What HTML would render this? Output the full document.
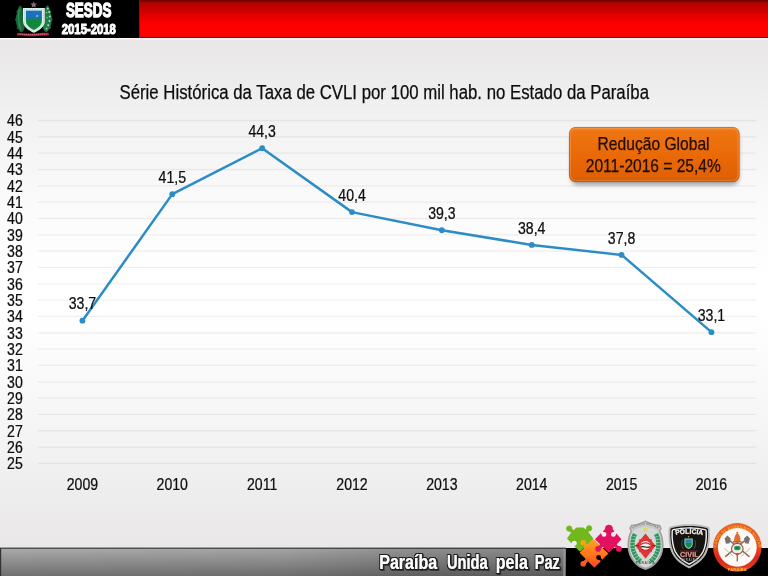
<!DOCTYPE html>
<html lang="pt-BR"><head><meta charset="utf-8"><title>SESDS 2015-2018</title>
<style>
html,body{margin:0;padding:0;background:#fff;}
body{width:768px;height:576px;overflow:hidden;position:relative;}
svg{position:absolute;left:0;top:0;display:block;}
text{font-family:"Liberation Sans",sans-serif;}
.n{fill:#0d0d0d;stroke:#0d0d0d;stroke-width:0.25;}
</style></head><body>
<svg width="768" height="576" viewBox="0 0 768 576">
<defs>
<linearGradient id="bg" x1="0" y1="0" x2="0" y2="1">
<stop offset="0.066" stop-color="#e8e6e6"/><stop offset="0.208" stop-color="#f2f2f2"/><stop offset="0.347" stop-color="#fafafa"/><stop offset="0.48" stop-color="#ffffff"/><stop offset="0.54" stop-color="#ffffff"/><stop offset="0.747" stop-color="#f5f5f5"/><stop offset="0.86" stop-color="#eeeded"/><stop offset="0.951" stop-color="#e9e7e7"/>
</linearGradient>
<linearGradient id="red" x1="0" y1="0" x2="0" y2="1">
<stop offset="0" stop-color="#620000"/><stop offset="0.05" stop-color="#9c0000"/><stop offset="0.09" stop-color="#b40000"/><stop offset="0.2" stop-color="#c40000"/><stop offset="0.4" stop-color="#e00000"/><stop offset="0.6" stop-color="#fd0000"/><stop offset="0.93" stop-color="#fd0000"/><stop offset="0.962" stop-color="#e00c0c"/><stop offset="0.985" stop-color="#980000"/><stop offset="1" stop-color="#8c0000"/>
</linearGradient>
<linearGradient id="bar" x1="0" y1="0" x2="0" y2="1">
<stop offset="0" stop-color="#ababab"/><stop offset="1" stop-color="#6f6f6f"/>
</linearGradient>
<linearGradient id="org" x1="0" y1="0" x2="0" y2="1">
<stop offset="0" stop-color="#f28a2e"/><stop offset="0.08" stop-color="#ee7412"/><stop offset="0.5" stop-color="#ea6a08"/><stop offset="0.92" stop-color="#e06004"/><stop offset="1" stop-color="#c85200"/>
</linearGradient>
<linearGradient id="barh" x1="0" y1="0" x2="1" y2="0"><stop offset="0" stop-color="#000" stop-opacity="0"/><stop offset="0.5" stop-color="#000" stop-opacity="0.03"/><stop offset="0.75" stop-color="#000" stop-opacity="0.16"/><stop offset="1" stop-color="#000" stop-opacity="0.2"/></linearGradient>
<filter id="sh" x="-10%" y="-20%" width="120%" height="160%"><feGaussianBlur stdDeviation="2.2"/></filter>
<filter id="sh3" x="-5%" y="-10%" width="110%" height="120%"><feGaussianBlur stdDeviation="0.7"/></filter>
<filter id="tsh" x="-5%" y="-30%" width="110%" height="170%">
<feMorphology in="SourceAlpha" operator="dilate" radius="0.45" result="fat"/>
<feMorphology in="SourceAlpha" operator="dilate" radius="1.45" result="ol"/>
<feGaussianBlur in="ol" stdDeviation="0.35" result="olb"/>
<feOffset in="ol" dx="0.7" dy="0.9" result="so"/><feGaussianBlur in="so" stdDeviation="0.6" result="sb"/>
<feFlood flood-color="#000" flood-opacity="0.5"/><feComposite in2="sb" operator="in" result="shadow"/>
<feFlood flood-color="#1e1e1e"/><feComposite in2="olb" operator="in" result="outline"/>
<feGaussianBlur in="fat" stdDeviation="0.25" result="fatb"/>
<feFlood flood-color="#fff"/><feComposite in2="fatb" operator="in" result="white"/>
<feMerge><feMergeNode in="shadow"/><feMergeNode in="outline"/><feMergeNode in="white"/></feMerge>
</filter>
<filter id="sh2" x="-5%" y="-50%" width="110%" height="300%"><feGaussianBlur stdDeviation="1.2"/></filter>
</defs>
<rect x="0" y="0" width="768" height="576" fill="url(#bg)"/>

<rect x="0" y="37" width="768" height="2.7" fill="#faf4f4"/>
<rect x="139.7" y="0" width="628.3" height="38" fill="url(#red)"/>
<rect x="0" y="0" width="139.7" height="38" fill="#000"/>
<line x1="37.5" y1="463.43" x2="756.5" y2="463.43" stroke="#000" stroke-opacity="0.06" stroke-width="1.3"/>
<line x1="37.5" y1="447.10" x2="756.5" y2="447.10" stroke="#000" stroke-opacity="0.06" stroke-width="1.3"/>
<line x1="37.5" y1="430.77" x2="756.5" y2="430.77" stroke="#000" stroke-opacity="0.06" stroke-width="1.3"/>
<line x1="37.5" y1="414.44" x2="756.5" y2="414.44" stroke="#000" stroke-opacity="0.06" stroke-width="1.3"/>
<line x1="37.5" y1="398.11" x2="756.5" y2="398.11" stroke="#000" stroke-opacity="0.06" stroke-width="1.3"/>
<line x1="37.5" y1="381.78" x2="756.5" y2="381.78" stroke="#000" stroke-opacity="0.06" stroke-width="1.3"/>
<line x1="37.5" y1="365.45" x2="756.5" y2="365.45" stroke="#000" stroke-opacity="0.06" stroke-width="1.3"/>
<line x1="37.5" y1="349.12" x2="756.5" y2="349.12" stroke="#000" stroke-opacity="0.06" stroke-width="1.3"/>
<line x1="37.5" y1="332.79" x2="756.5" y2="332.79" stroke="#000" stroke-opacity="0.06" stroke-width="1.3"/>
<line x1="37.5" y1="316.46" x2="756.5" y2="316.46" stroke="#000" stroke-opacity="0.06" stroke-width="1.3"/>
<line x1="37.5" y1="300.13" x2="756.5" y2="300.13" stroke="#000" stroke-opacity="0.06" stroke-width="1.3"/>
<line x1="37.5" y1="283.80" x2="756.5" y2="283.80" stroke="#000" stroke-opacity="0.06" stroke-width="1.3"/>
<line x1="37.5" y1="267.47" x2="756.5" y2="267.47" stroke="#000" stroke-opacity="0.06" stroke-width="1.3"/>
<line x1="37.5" y1="251.14" x2="756.5" y2="251.14" stroke="#000" stroke-opacity="0.06" stroke-width="1.3"/>
<line x1="37.5" y1="234.81" x2="756.5" y2="234.81" stroke="#000" stroke-opacity="0.06" stroke-width="1.3"/>
<line x1="37.5" y1="218.48" x2="756.5" y2="218.48" stroke="#000" stroke-opacity="0.06" stroke-width="1.3"/>
<line x1="37.5" y1="202.15" x2="756.5" y2="202.15" stroke="#000" stroke-opacity="0.06" stroke-width="1.3"/>
<line x1="37.5" y1="185.82" x2="756.5" y2="185.82" stroke="#000" stroke-opacity="0.06" stroke-width="1.3"/>
<line x1="37.5" y1="169.49" x2="756.5" y2="169.49" stroke="#000" stroke-opacity="0.06" stroke-width="1.3"/>
<line x1="37.5" y1="153.16" x2="756.5" y2="153.16" stroke="#000" stroke-opacity="0.06" stroke-width="1.3"/>
<line x1="37.5" y1="136.83" x2="756.5" y2="136.83" stroke="#000" stroke-opacity="0.06" stroke-width="1.3"/>
<line x1="37.5" y1="120.50" x2="756.5" y2="120.50" stroke="#000" stroke-opacity="0.06" stroke-width="1.3"/>
<text transform="translate(22.8,469.33) scale(0.85,1)" font-size="16.6" text-anchor="end" class="n">25</text>
<text transform="translate(22.8,453.00) scale(0.85,1)" font-size="16.6" text-anchor="end" class="n">26</text>
<text transform="translate(22.8,436.67) scale(0.85,1)" font-size="16.6" text-anchor="end" class="n">27</text>
<text transform="translate(22.8,420.34) scale(0.85,1)" font-size="16.6" text-anchor="end" class="n">28</text>
<text transform="translate(22.8,404.01) scale(0.85,1)" font-size="16.6" text-anchor="end" class="n">29</text>
<text transform="translate(22.8,387.68) scale(0.85,1)" font-size="16.6" text-anchor="end" class="n">30</text>
<text transform="translate(22.8,371.35) scale(0.85,1)" font-size="16.6" text-anchor="end" class="n">31</text>
<text transform="translate(22.8,355.02) scale(0.85,1)" font-size="16.6" text-anchor="end" class="n">32</text>
<text transform="translate(22.8,338.69) scale(0.85,1)" font-size="16.6" text-anchor="end" class="n">33</text>
<text transform="translate(22.8,322.36) scale(0.85,1)" font-size="16.6" text-anchor="end" class="n">34</text>
<text transform="translate(22.8,306.03) scale(0.85,1)" font-size="16.6" text-anchor="end" class="n">35</text>
<text transform="translate(22.8,289.70) scale(0.85,1)" font-size="16.6" text-anchor="end" class="n">36</text>
<text transform="translate(22.8,273.37) scale(0.85,1)" font-size="16.6" text-anchor="end" class="n">37</text>
<text transform="translate(22.8,257.04) scale(0.85,1)" font-size="16.6" text-anchor="end" class="n">38</text>
<text transform="translate(22.8,240.71) scale(0.85,1)" font-size="16.6" text-anchor="end" class="n">39</text>
<text transform="translate(22.8,224.38) scale(0.85,1)" font-size="16.6" text-anchor="end" class="n">40</text>
<text transform="translate(22.8,208.05) scale(0.85,1)" font-size="16.6" text-anchor="end" class="n">41</text>
<text transform="translate(22.8,191.72) scale(0.85,1)" font-size="16.6" text-anchor="end" class="n">42</text>
<text transform="translate(22.8,175.39) scale(0.85,1)" font-size="16.6" text-anchor="end" class="n">43</text>
<text transform="translate(22.8,159.06) scale(0.85,1)" font-size="16.6" text-anchor="end" class="n">44</text>
<text transform="translate(22.8,142.73) scale(0.85,1)" font-size="16.6" text-anchor="end" class="n">45</text>
<text transform="translate(22.8,126.40) scale(0.85,1)" font-size="16.6" text-anchor="end" class="n">46</text>
<text transform="translate(82.43,490) scale(0.85,1)" font-size="16.6" text-anchor="middle" class="n">2009</text>
<text transform="translate(172.29,490) scale(0.85,1)" font-size="16.6" text-anchor="middle" class="n">2010</text>
<text transform="translate(262.15,490) scale(0.85,1)" font-size="16.6" text-anchor="middle" class="n">2011</text>
<text transform="translate(352.01,490) scale(0.85,1)" font-size="16.6" text-anchor="middle" class="n">2012</text>
<text transform="translate(441.87,490) scale(0.85,1)" font-size="16.6" text-anchor="middle" class="n">2013</text>
<text transform="translate(531.73,490) scale(0.85,1)" font-size="16.6" text-anchor="middle" class="n">2014</text>
<text transform="translate(621.59,490) scale(0.85,1)" font-size="16.6" text-anchor="middle" class="n">2015</text>
<text transform="translate(711.45,490) scale(0.85,1)" font-size="16.6" text-anchor="middle" class="n">2016</text>
<text x="119.5" y="99.3" font-size="20" class="n" textLength="529.5" lengthAdjust="spacingAndGlyphs">Série Histórica da Taxa de CVLI por 100 mil hab. no Estado da Paraíba</text>
<polyline points="82.43,320.71 172.29,194.15 262.15,148.26 352.01,212.11 441.87,230.24 531.73,244.93 621.59,254.90 711.45,332.14" fill="none" stroke="#2b8cc6" stroke-width="2.5" stroke-linejoin="round" stroke-linecap="round"/>
<circle cx="82.43" cy="320.71" r="2.9" fill="#2b8cc6"/>
<circle cx="172.29" cy="194.15" r="2.9" fill="#2b8cc6"/>
<circle cx="262.15" cy="148.26" r="2.9" fill="#2b8cc6"/>
<circle cx="352.01" cy="212.11" r="2.9" fill="#2b8cc6"/>
<circle cx="441.87" cy="230.24" r="2.9" fill="#2b8cc6"/>
<circle cx="531.73" cy="244.93" r="2.9" fill="#2b8cc6"/>
<circle cx="621.59" cy="254.90" r="2.9" fill="#2b8cc6"/>
<circle cx="711.45" cy="332.14" r="2.9" fill="#2b8cc6"/>
<text transform="translate(82.43,309.41) scale(0.85,1)" font-size="16.6" text-anchor="middle" class="n">33,7</text>
<text transform="translate(172.29,182.85) scale(0.85,1)" font-size="16.6" text-anchor="middle" class="n">41,5</text>
<text transform="translate(262.15,136.96) scale(0.85,1)" font-size="16.6" text-anchor="middle" class="n">44,3</text>
<text transform="translate(352.01,200.81) scale(0.85,1)" font-size="16.6" text-anchor="middle" class="n">40,4</text>
<text transform="translate(441.87,218.94) scale(0.85,1)" font-size="16.6" text-anchor="middle" class="n">39,3</text>
<text transform="translate(531.73,233.63) scale(0.85,1)" font-size="16.6" text-anchor="middle" class="n">38,4</text>
<text transform="translate(621.59,243.60) scale(0.85,1)" font-size="16.6" text-anchor="middle" class="n">37,8</text>
<text transform="translate(711.45,320.84) scale(0.85,1)" font-size="16.6" text-anchor="middle" class="n">33,1</text>
<rect x="571" y="131" width="168" height="54" rx="7" fill="#000" opacity="0.35" filter="url(#sh)"/>
<rect x="569" y="127" width="170.5" height="55" rx="6.5" fill="url(#org)"/>
<rect x="570.2" y="128.2" width="168" height="52.4" rx="5.6" fill="none" stroke="#ffb060" stroke-opacity="0.35" stroke-width="1.6" filter="url(#sh3)"/>
<rect x="569.4" y="127.4" width="169.7" height="54.2" rx="6.3" fill="none" stroke="#a84800" stroke-opacity="0.45" stroke-width="0.9"/>
<text x="597.6" y="149.6" font-size="17.8" fill="#1f0d00" stroke="#1f0d00" stroke-width="0.25" textLength="112" lengthAdjust="spacingAndGlyphs">Redução Global</text>
<text x="585.8" y="172" font-size="17.8" fill="#1f0d00" stroke="#1f0d00" stroke-width="0.25" textLength="135" lengthAdjust="spacingAndGlyphs">2011-2016 = 25,4%</text>
<text x="65.9" y="17.2" font-size="19.6" font-weight="bold" fill="#fff" stroke="#fff" stroke-width="1.3" textLength="45.6" lengthAdjust="spacingAndGlyphs">SESDS</text>
<text x="61.8" y="34.2" font-size="13.8" font-weight="bold" fill="#fff" stroke="#fff" stroke-width="1" textLength="54" lengthAdjust="spacingAndGlyphs">2015-2018</text>
<rect x="0" y="548" width="566" height="28" fill="url(#bar)"/>
<rect x="0" y="547.6" width="566" height="1.2" fill="#3a3a3a"/>
<rect x="0" y="548" width="1.2" height="28" fill="#333"/>
<rect x="566" y="548" width="202" height="28" fill="#000"/>
<rect x="0" y="548" width="566" height="28" fill="url(#barh)"/>
<rect x="563.2" y="548.8" width="2" height="27.2" fill="#9a9a9a" opacity="0.8"/>
<text y="568.8" font-size="20" font-weight="bold" fill="#fff" filter="url(#tsh)"><tspan x="379.2" textLength="57.9" lengthAdjust="spacingAndGlyphs">Paraíba</tspan> <tspan x="446.9" textLength="40.7" lengthAdjust="spacingAndGlyphs">Unida</tspan> <tspan x="495.8" textLength="32.1" lengthAdjust="spacingAndGlyphs">pela</tspan> <tspan x="534.8" textLength="25.0" lengthAdjust="spacingAndGlyphs">Paz</tspan></text>
<g id="coat">
<path d="M20 5.6 C18.6 7.4 17.8 8.8 17.4 10.6 L16.2 11.4 L17 13 C16.2 14.8 15.8 16.6 15.8 18.4 L14.8 19.6 L15.9 21 C16 23 16.4 25 17.2 26.8 L16.6 28.4 L18.2 29 C19 30.4 20 31.6 21.2 32.4 C23.4 31.4 24.6 29.4 24.8 27 C23.2 22 22.6 16 22.8 10 C22.4 8 21.4 6.6 20 5.6Z" fill="#17693a"/>
<path d="M19.6 9 C18 13.6 18 22.6 21 29.6" stroke="#2e8d58" stroke-width="1.4" fill="none"/>
<path d="M47.6 5.2 C49 7 49.8 8.6 50.2 10.4 L51.4 11.2 L50.6 12.8 C51.4 14.6 51.8 16.4 51.8 18.2 L52.8 19.4 L51.7 20.8 C51.6 22.8 51.2 24.8 50.4 26.6 L51 28.2 L49.4 28.8 C48.6 30.2 47.6 31.4 46.4 32.2 C44.2 31.2 43 29.2 42.8 26.8 C44.4 21.8 45 15.8 44.8 9.8 C45.2 7.8 46.2 6.4 47.6 5.2Z" fill="#1f7c48"/>
<g fill="#a6dfc2"><circle cx="47.8" cy="8.6" r="0.9"/><circle cx="49.2" cy="12" r="1"/><circle cx="49.8" cy="16.4" r="1"/><circle cx="49.4" cy="21" r="1"/><circle cx="48.2" cy="25.2" r="1"/><circle cx="46.6" cy="28.6" r="0.9"/><circle cx="47" cy="17.6" r="0.7"/><circle cx="46.6" cy="12.6" r="0.7"/></g>
<path d="M33.7 1.4 L34.7 3.5 L37 3.8 L35.3 5.3 L35.8 7.5 L33.7 6.4 L31.6 7.5 L32.1 5.3 L30.4 3.8 L32.7 3.5Z" fill="#8b6b7c"/>
<path d="M23 8 L44.8 8 L44.8 21 C44.8 27 39 30.6 33.9 32.8 C28.8 30.6 23 27 23 21Z" fill="#e0f2ea"/>
<path d="M24.4 9.3 L43.4 9.3 L43.4 21 C43.4 26 38.4 29.2 33.9 31.2 C29.4 29.2 24.4 26 24.4 21Z" fill="none" stroke="#8fc9b2" stroke-width="0.7" stroke-dasharray="1 0.9"/>
<path d="M25.9 10.6 L41.9 10.6 L41.9 18.2 L25.9 18.2Z" fill="#1d6fc2"/>
<path d="M25.9 18.2 L41.9 18.2 L41.9 20.8 C41.9 25.5 37.5 28.4 33.9 30 C30.3 28.4 25.9 25.5 25.9 20.8Z" fill="#12883e"/>
<path d="M25.9 17.2 L41.9 17.2 L41.9 19.4 L25.9 19.4Z" fill="#1a7a7c"/>
<circle cx="37.2" cy="15.9" r="1" fill="#63e6d2"/>
<path d="M17.2 33 C22 32.4 28 34.2 33 33.8 C38 33.4 44 32.4 48.8 33 L48.8 35.6 C44 35.2 38 36 33 36.2 C28 36.4 22 35 17.2 35.6Z" fill="#bf2638"/>
<path d="M20 34.3 L46 34.3" stroke="#e58a92" stroke-width="0.7" stroke-dasharray="1.2 0.8"/>
</g>
<g id="heart">
<linearGradient id="og" x1="0" y1="0" x2="0" y2="1"><stop offset="0" stop-color="#ffa21c"/><stop offset="0.5" stop-color="#ff7a1c"/><stop offset="1" stop-color="#ff4a1e"/></linearGradient>
<g fill="#72b81c" stroke="#72b81c" stroke-linejoin="round">
<path stroke-width="2.4" d="M592 538.8 L580 550.2 L568.4 538.4 L573.6 531.6 L577 528.6 L583 528.6 L586.4 531.6Z"/>
<circle cx="569.2" cy="528.6" r="2.6" stroke-width="1"/><circle cx="589.1" cy="528.3" r="2.6" stroke-width="1"/>
<path d="M569.2 528.6 L575 534 M589.1 528.3 L584 534" stroke-width="3.4" fill="none"/>
</g>
<circle cx="574.2" cy="543.2" r="2.5" fill="#eef1e6"/><path d="M574.2 543.2 L571.4 546" stroke="#eeecec" stroke-width="3" fill="none"/>
<g fill="#e3115f" stroke="#e3115f" stroke-linejoin="round">
<path stroke-width="1.6" d="M596 539.2 L608.9 526.4 L620.4 539.2 L608.9 551.8Z"/>
<circle cx="608.9" cy="528.6" r="3.6" stroke-width="0.6"/>
<circle cx="618.9" cy="548.9" r="2.6" stroke-width="0.8"/><path d="M614.6 544.6 L618.9 548.9" stroke-width="3.2" fill="none"/>
</g>
<circle cx="604" cy="534.4" r="2.4" fill="#fbeff3"/><path d="M604 534.4 L601.2 531.6" stroke="#f1eded" stroke-width="2.8"/>
<circle cx="613.4" cy="534.4" r="2.4" fill="#fbeff3"/><path d="M613.4 534.4 L616.2 531.6" stroke="#f1eded" stroke-width="2.8"/>
<g fill="url(#og)" stroke="url(#og)" stroke-linejoin="round">
<path stroke-width="1.4" d="M593.2 540 L607.4 553.4 L594.4 566.8 L580.6 552.8Z"/>
</g>
<circle cx="583.2" cy="542.6" r="2.7" fill="#ffa41c"/><path d="M583.2 542.6 L587.4 547" stroke="#ff9a1c" stroke-width="3.2"/>
<circle cx="583.2" cy="563.8" r="2.8" fill="#ff5620"/><path d="M583.2 563.8 L587 560" stroke="#ff5c20" stroke-width="3.2"/>
<circle cx="598.1" cy="548.9" r="2.8" fill="#e3115f"/><path d="M598.1 548.9 L602 545" stroke="#e3115f" stroke-width="3.2"/>
<circle cx="598.6" cy="557.5" r="2.4" fill="#0a0000"/><path d="M598.6 557.5 L601.6 560.4" stroke="#0a0000" stroke-width="2.4"/>
</g>
<g id="pm">
<path d="M645.5 520.4 C651 523.2 656 524.6 660 524.8 L661.8 528.6 L660.4 531 C663 536 663.6 541 663.5 546 C663.2 559 654 568 645.5 569.9 C637 568 627.8 559 627.5 546 C627.4 541 628 536 630.6 531 L629.2 528.6 L631 524.8 C635 524.6 640 523.2 645.5 520.4Z" fill="#9e9e9e"/>
<path d="M645.5 522 C650.6 524.6 655.2 525.8 659 526 L660.2 528.6 L658.8 531 C661.4 536 662 541 661.9 546 C661.4 557.6 653.6 565.8 645.5 567.8 C637.4 565.8 629.6 557.6 629.3 546 C629 541 629.6 536 632.2 531 L630.8 528.6 L632 526 C635.8 525.8 640.4 524.6 645.5 522Z" fill="#c9c9c9"/>
<path d="M632.6 532 C639 525.6 652 525.6 658.4 532 C661 537 661.4 541.4 661.3 546 C661 556.6 654 564.8 645.5 567.6 C637 564.8 630 556.6 629.7 546 C629.6 541.4 630 537 632.6 532Z" fill="#d3dad6"/>
<path d="M635 534 C630.4 543 632 554.6 640.6 561.4" fill="none" stroke="#2c965a" stroke-width="4.4" stroke-dasharray="2.6 0.45"/>
<path d="M656 534 C660.6 543 659 554.6 650.4 561.4" fill="none" stroke="#2c965a" stroke-width="4.4" stroke-dasharray="2.6 0.45"/>
<path d="M635 536 C631.8 543.6 633 553.6 640.6 560.2 M656 536 C659.2 543.6 658 553.6 650.4 560.2" fill="none" stroke="#7fd0a4" stroke-width="1" stroke-dasharray="1.2 1.8"/>
<path d="M639.2 539.3 L651.8 539.3 L651.8 552.1 L639.2 552.1Z" fill="#dd3a3a"/>
<path d="M645.5 533.4 L655.6 545.7 L645.5 558.8 L635.4 545.7Z" fill="#e23434"/>
<circle cx="645.5" cy="545.7" r="4.8" fill="#f6eeee"/>
<path d="M641 544.6 C643 542.4 648 542.4 650 544.6" stroke="#c02222" stroke-width="1.3" fill="none"/>
<path d="M640.8 547 C644 545.4 647 548.8 650.2 546.8" stroke="#222" stroke-width="1.2" fill="none"/>
<path d="M641.6 549 C644 550.6 647 550.6 649.4 549" stroke="#c02222" stroke-width="1.1" fill="none"/>
<path d="M634.4 545.7 L639 545.7 M652 545.7 L656.6 545.7" stroke="#333" stroke-width="0.8"/>
<circle cx="645.5" cy="529.8" r="2.4" fill="#e3d27c"/>
<path id="pmarc" d="M633 529.4 C639 523.4 652 523.4 658 529.4" fill="none"/>
<text font-size="3" font-weight="bold" fill="#7c7c7c" letter-spacing="0.1"><textPath href="#pmarc" startOffset="50%" text-anchor="middle">POLÍCIA MILITAR</textPath></text>
<text x="645.5" y="563.8" font-size="3.4" font-weight="bold" fill="#555" text-anchor="middle" letter-spacing="0.6">PARAÍBA</text>
</g>
<g id="pc">
<path d="M671 526.4 C677 524.8 683 524.2 689.2 524.2 C695.4 524.2 701.4 524.8 707.4 526.4 C709.2 526.9 709.8 527.8 709.8 529.4 C710.2 538 709.6 546.4 706.6 553 C703 560.4 696.4 565 689.2 568.4 C682 565 675.4 560.4 671.8 553 C668.8 546.4 668.2 538 668.6 529.4 C668.6 527.8 669.2 526.9 671 526.4Z" fill="#b9b9b9"/>
<path d="M672 528 C677.6 526.6 683.4 526 689.2 526 C695 526 700.8 526.6 706.4 528 C707.6 528.3 708 529 708 530 C708.4 538 707.8 545.6 704.8 552 C701.6 558.8 695.6 563 689.2 566.2 C682.8 563 676.8 558.8 673.6 552 C670.6 545.6 670 538 670.4 530 C670.4 529 670.8 528.3 672 528Z" fill="#171311"/>
<path d="M673.4 529.6 C678.4 528.4 683.8 527.9 689.2 527.9 C694.6 527.9 700 528.4 705 529.6 C705.9 529.8 706.2 530.3 706.2 531 C706.6 538.4 706 545.2 703.3 551.2 C700.3 557.4 695 561.3 689.2 564.2 C683.4 561.3 678.1 557.4 675.1 551.2 C672.4 545.2 671.8 538.4 672.2 531 C672.2 530.3 672.5 529.8 673.4 529.6Z" fill="none" stroke="#f4f4f4" stroke-width="1.4"/>
<path id="pcarc" d="M675.6 535.2 C684 533.2 694.4 533.2 703 535.2" fill="none"/>
<text font-size="6.8" font-weight="bold" fill="#f2f2f2" stroke="#f2f2f2" stroke-width="0.3"><textPath href="#pcarc" startOffset="50%" text-anchor="middle" textLength="27" lengthAdjust="spacingAndGlyphs">POLÍCIA</textPath></text>
<path d="M684.4 538.4 L692.8 538.4 L692.8 544 C692.8 546.8 690.6 548.2 688.6 549 C686.6 548.2 684.4 546.8 684.4 544Z" fill="#8fd0cc"/>
<path d="M685.4 539.4 L691.8 539.4 L691.8 542.6 L685.4 542.6Z" fill="#2a7fc8"/>
<path d="M685.4 542.6 L691.8 542.6 L691.8 544 C691.8 546 690.2 547.2 688.6 547.9 C687 547.2 685.4 546 685.4 544Z" fill="#178a42"/>
<circle cx="688.6" cy="536.8" r="0.7" fill="#c9b46a"/>
<path d="M694.6 540 C696 543 695.6 546.4 693.6 549" stroke="#1c5a3a" stroke-width="1.1" fill="none"/>
<path d="M682.6 540 C681.2 543 681.6 546.4 683.6 549" stroke="#1c5a3a" stroke-width="1.1" fill="none"/>
<path d="M680 551 L698.4 551" stroke="#8a2c26" stroke-width="0.8"/>
<text x="689.4" y="557" font-size="6.4" font-weight="bold" fill="#efe6da" stroke="#a84438" stroke-width="0.35" text-anchor="middle" textLength="18.6" lengthAdjust="spacingAndGlyphs">CIVIL</text>
<text x="689.4" y="560.6" font-size="2.8" font-weight="bold" fill="#a4a4a4" text-anchor="middle" letter-spacing="0.7">PARAÍBA</text>
</g>
<g id="cbm">
<linearGradient id="ring" x1="0" y1="0" x2="0" y2="1"><stop offset="0" stop-color="#ee6420"/><stop offset="0.5" stop-color="#e84a1c"/><stop offset="0.72" stop-color="#dc261a"/><stop offset="0.9" stop-color="#e03a1a"/><stop offset="1" stop-color="#ee6a1e"/></linearGradient>
<circle cx="737.3" cy="547.3" r="24.2" fill="url(#ring)"/>
<circle cx="737.3" cy="547.3" r="19.4" fill="#fdf9f6"/>
<path id="cbarc2" d="M716.2 549.4 A21.1 21.1 0 0 1 758.4 549.4" fill="none"/>
<text font-size="4.2" font-weight="bold" fill="#f4ac44" letter-spacing="0.2"><textPath href="#cbarc2" startOffset="50%" text-anchor="middle" textLength="62" lengthAdjust="spacingAndGlyphs">CORPO DE BOMBEIROS MILITAR</textPath></text>
<text x="737.3" y="570.8" font-size="4" font-weight="bold" fill="#f6b23a" text-anchor="middle" letter-spacing="0.2">PARAÍBA</text>
<g stroke="#93685c" stroke-width="1.4" stroke-linecap="round">
<path d="M727.4 538.6 L749 556.4"/><path d="M747.2 538.6 L725.6 556.4"/>
</g>
<g stroke="#a9b792" stroke-width="0.9" stroke-linecap="round"><path d="M724.6 548.6 L733 556"/><path d="M750 548.6 L741.6 556"/></g>
<path d="M724.6 538.4 L727.4 535.4 L730.6 538.6 L729.6 543.2 L726 543.8 Z" fill="#77706c"/>
<path d="M750 538.4 L747.2 535.4 L744 538.6 L745 543.2 L748.6 543.8 Z" fill="#77706c"/>
<path d="M737.3 541 L737.3 561.4" stroke="#93685c" stroke-width="1.3"/>
<path d="M734.2 541.4 C733.8 537.4 735.2 534.4 737.3 533 C739.4 534.4 740.8 537.4 740.4 541.4Z" fill="#de6e2c"/>
<circle cx="737.3" cy="532.8" r="1" fill="#de6e2c"/>
<path d="M733.2 541 L741.4 541 L741.4 542.6 L733.2 542.6Z" fill="#c45c28"/>
<ellipse cx="737.3" cy="548.8" rx="5.8" ry="5.4" fill="#f4ece8" stroke="#93584e" stroke-width="1.1"/>
<ellipse cx="737.3" cy="548" rx="3.4" ry="2.3" fill="#2e9a5e"/>
<ellipse cx="737.3" cy="548" rx="1.5" ry="0.8" fill="#1a5a3a"/>
<path d="M735 553 L737.3 556.6 L739.6 553Z" fill="#c45c28"/>
</g>
</svg></body></html>
